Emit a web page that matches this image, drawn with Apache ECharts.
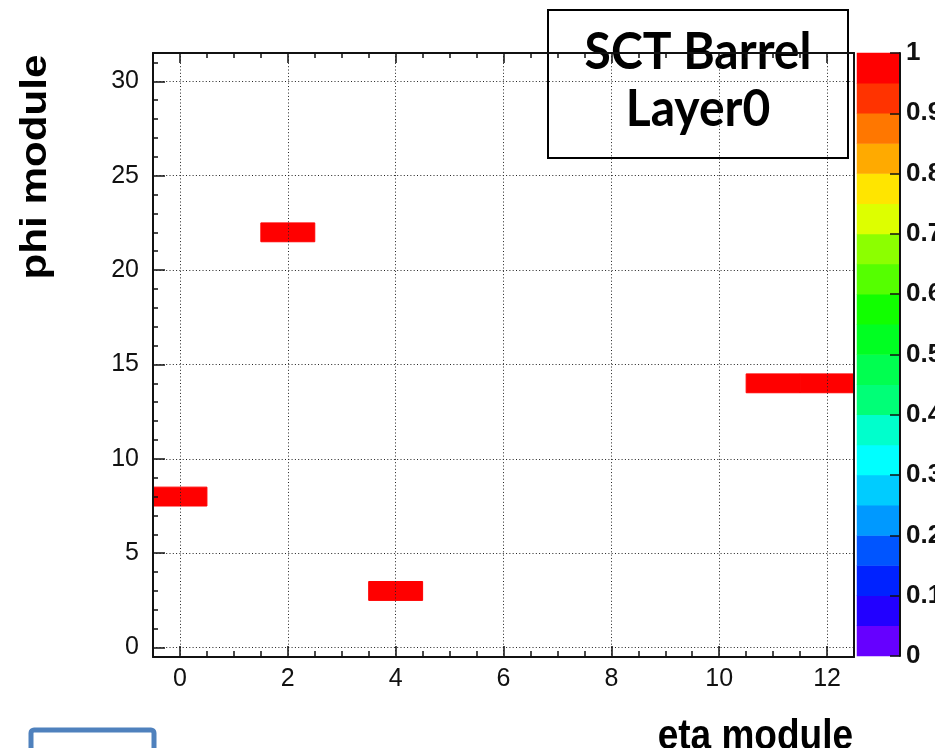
<!DOCTYPE html>
<html>
<head>
<meta charset="utf-8">
<title>SCT Barrel Layer0</title>
<script src="https://cdn.jsdelivr.net/npm/echarts@6/dist/echarts.min.js"></script>
<style>
  html, body { margin: 0; padding: 0; background: #ffffff; }
  #chart { width: 935px; height: 748px; }
</style>
</head>
<body>
<div id="chart"></div>
<script>
// Module map: [eta module, phi module, value]
const cells = [
  [0, 8, 1],
  [2, 22, 1],
  [4, 3, 1],
  [11, 14, 1],
  [12, 14, 1]
];

// Axis ranges (bin edges) and tick positions
const etaRange = [-0.5, 12.5];
const phiRange = [-0.5, 31.5];
const etaMajorTicks = [0, 2, 4, 6, 8, 10, 12];
const phiMajorTicks = [0, 5, 10, 15, 20, 25, 30];
const phiMinorTicks = Array.from({ length: 32 }, (_, i) => i);

// Colour palette, 20 equal steps from 0 to 1
const palette = [
  '#6600ff', '#2200ff', '#0022ff', '#0055ff', '#0099ff',
  '#00ccff', '#00ffff', '#00ffcc', '#00ff77', '#00ff50',
  '#00ff22', '#11ff00', '#55ff00', '#8cff00', '#ddff00',
  '#ffe500', '#ffaa00', '#ff7700', '#ff3300', '#ff0000'
];
const scaleMin = 0, scaleMax = 1;

const step = (scaleMax - scaleMin) / palette.length;
const pieces = palette.map((c, i) => {
  const p = { gte: scaleMin + i * step, color: c };
  if (i === palette.length - 1) p.lte = scaleMax; else p.lt = scaleMin + (i + 1) * step;
  return p;
});
const barCats = palette.map((_, i) => i);
const barData = palette.map((_, i) => [0, i, scaleMin + (i + 0.5) * step]);

const AX = '#111';
const labelFont = { fontFamily: 'Liberation Sans, Arial, sans-serif', fontSize: 25, color: '#111' };
const gridDot = { color: '#222', width: 1, type: [1, 2.3] };
const frameLine = { show: true, onZero: false, lineStyle: { color: AX, width: 2 } };
const noLine = { show: false, onZero: false };

const chart = echarts.init(document.getElementById('chart'), null, { renderer: 'canvas' });

chart.setOption({
  backgroundColor: '#ffffff',
  animation: false,
  grid: [
    { left: 153, top: 53, width: 701, height: 604, containLabel: false, outerBoundsMode: 'none' },
    { left: 857, top: 53, width: 43, height: 603, containLabel: false, outerBoundsMode: 'none' }
  ],
  visualMap: {
    type: 'piecewise', show: false, dimension: 2,
    seriesIndex: [0, 1], pieces: pieces
  },
  xAxis: [
    { // bottom: labels, major ticks, grid
      type: 'value', gridIndex: 0, position: 'bottom', min: etaRange[0], max: etaRange[1], z: 10,
      axisLine: frameLine,
      axisTick: { show: true, inside: true, length: 11, customValues: etaMajorTicks, lineStyle: { color: AX, width: 1.5 } },
      axisLabel: { show: true, customValues: etaMajorTicks, margin: 10, ...labelFont },
      splitLine: { show: true, lineStyle: gridDot }
    },
    { // bottom: minor ticks
      type: 'value', gridIndex: 0, position: 'bottom', min: etaRange[0], max: etaRange[1], interval: 0.5, z: 10,
      axisLine: noLine,
      axisTick: { show: true, inside: true, length: 6, lineStyle: { color: AX, width: 1.5 } },
      axisLabel: { show: false }, splitLine: { show: false }
    },
    { // top frame with mirrored ticks
      type: 'value', gridIndex: 0, position: 'top', min: etaRange[0], max: etaRange[1], z: 10,
      axisLine: frameLine,
      axisTick: { show: true, inside: true, length: 10, customValues: etaMajorTicks, lineStyle: { color: AX, width: 1.5 } },
      axisLabel: { show: false }, splitLine: { show: false }
    },
    {
      type: 'value', gridIndex: 0, position: 'top', min: etaRange[0], max: etaRange[1], interval: 0.5, z: 10,
      axisLine: noLine,
      axisTick: { show: true, inside: true, length: 5, lineStyle: { color: AX, width: 1.5 } },
      axisLabel: { show: false }, splitLine: { show: false }
    },
    { // colour bar
      type: 'category', gridIndex: 1, data: [0], show: false
    }
  ],
  yAxis: [
    {
      type: 'value', gridIndex: 0, position: 'left', min: phiRange[0], max: phiRange[1], z: 10,
      axisLine: frameLine,
      axisTick: { show: true, inside: true, length: 12, customValues: phiMajorTicks, lineStyle: { color: AX, width: 1.5 } },
      axisLabel: { show: true, customValues: phiMajorTicks, margin: 14, ...labelFont },
      splitLine: { show: true, lineStyle: gridDot }
    },
    {
      type: 'value', gridIndex: 0, position: 'left', min: phiRange[0], max: phiRange[1], z: 10,
      axisLine: noLine,
      axisTick: { show: true, inside: true, length: 5, customValues: phiMinorTicks, lineStyle: { color: AX, width: 1.5 } },
      axisLabel: { show: false }, splitLine: { show: false }
    },
    {
      type: 'value', gridIndex: 0, position: 'right', min: phiRange[0], max: phiRange[1], z: 10,
      axisLine: frameLine,
      axisTick: { show: false }, axisLabel: { show: false }, splitLine: { show: false }
    },
    { // colour bar bins
      type: 'category', gridIndex: 1, data: barCats, show: false
    },
    { // colour bar scale
      type: 'value', gridIndex: 1, position: 'right', min: scaleMin, max: scaleMax, interval: 0.1, z: 10,
      axisLine: frameLine,
      axisTick: { show: true, inside: true, length: 10, lineStyle: { color: AX, width: 1.5 } },
      axisLabel: { show: true, margin: 6, hideOverlap: false, fontFamily: 'Liberation Sans, Arial, sans-serif', fontSize: 26, fontWeight: 'bold', color: '#111' },
      splitLine: { show: false }
    }
  ],
  series: [
    {
      type: 'custom',
      coordinateSystem: 'cartesian2d',
      xAxisIndex: 0, yAxisIndex: 0,
      encode: { x: 0, y: 1 },
      data: cells,
      z: 2,
      renderItem: function (params, api) {
        const corner = api.coord([api.value(0) - 0.5, api.value(1) + 0.5]);
        const size = api.size([1, 1]);
        const color = api.visual('color');
        return {
          type: 'rect',
          shape: { x: corner[0], y: corner[1], width: size[0], height: size[1] },
          style: { fill: color, stroke: color, lineWidth: 1 }
        };
      }
    },
    {
      type: 'heatmap',
      xAxisIndex: 4, yAxisIndex: 3,
      data: barData,
      itemStyle: { borderWidth: 0 }
    }
  ],
  graphic: [
    {
      type: 'group', z: 100,
      children: [
        { type: 'rect', shape: { x: 548, y: 10, width: 300, height: 148 },
          style: { fill: '#ffffff', stroke: '#000', lineWidth: 2 } },
        { type: 'text', x: 698, y: 57, scaleY: 1.08, originX: 698, originY: 57,
          style: { text: 'SCT Barrel', fontFamily: 'Lato, Open Sans, sans-serif', fontWeight: 'bold', fontSize: 48, fill: '#000', align: 'center', verticalAlign: 'middle' } },
        { type: 'text', x: 698, y: 119, scaleY: 1.08, originX: 698, originY: 119,
          style: { text: 'Layer0', fontFamily: 'Lato, Open Sans, sans-serif', fontWeight: 'bold', fontSize: 48, fill: '#000', align: 'center', verticalAlign: 'middle' } }
      ]
    },
    {
      type: 'text', z: 100, x: 36, y: 167, rotation: Math.PI / 2, scaleX: 1.14,
      style: { text: 'phi module', fontFamily: 'Liberation Sans, Arial, sans-serif', fontWeight: 'bold', fontSize: 37, fill: '#000', align: 'center', verticalAlign: 'middle' }
    },
    {
      type: 'text', z: 100, x: 853, y: 737, scaleY: 1.15,
      style: { text: 'eta module', fontFamily: 'Liberation Sans, Arial, sans-serif', fontWeight: 'bold', fontSize: 37, fill: '#000', align: 'right', verticalAlign: 'middle' }
    },
    {
      type: 'rect', z: 100,
      shape: { x: 31, y: 730, width: 123, height: 40, r: 3 },
      style: { fill: 'none', stroke: '#4f81bd', lineWidth: 5 }
    }
  ]
});
</script>
</body>
</html>
